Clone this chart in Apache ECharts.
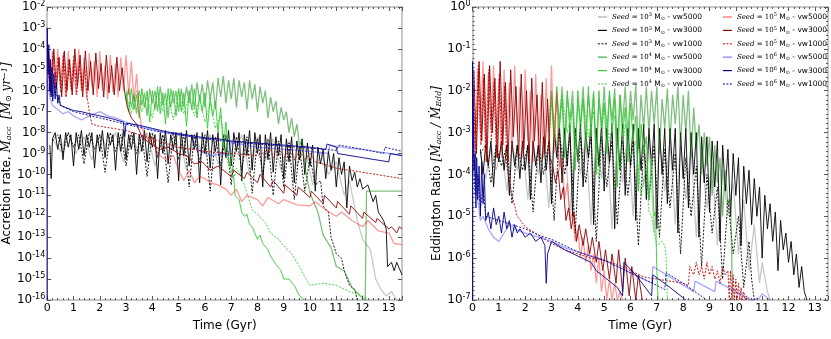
<!DOCTYPE html>
<html>
<head>
<meta charset="utf-8">
<title>Accretion rate / Eddington ratio</title>
<script src="https://cdn.jsdelivr.net/npm/echarts@6.0.0/dist/echarts.min.js"></script>
</head>
<body style="margin:0;background:#fff">
<div id="main" style="width:831px;height:339px;"></div>
<script>
// seeds (log10 Msun) and wind speeds, same order as the legend
var seeds = ['3', '4', '5', '6'];
var winds = ['vw5000', 'vw3000', 'vw1000'];
// y ranges, as powers of ten
var accRange = [-16, -2];
var eddRange = [-7, 0];

// ---- left panel: log10 accretion rate [Msun/yr] vs time [Gyr] ----
var acc3_5000 = [[0.2,-8.3],[0.5,-8.9],[0.8,-8.0],[1.1,-9.0],[1.4,-8.2],[1.7,-9.3],[2.0,-8.1],[2.3,-8.8],[2.6,-8.0],[2.9,-9.4],[3.2,-8.1],[3.5,-9.0],[3.8,-8.0],[4.1,-9.6],[4.4,-8.1],[4.7,-8.9],[5.0,-8.0],[5.3,-9.8],[5.6,-8.1],[5.9,-9.0],[6.2,-8.1],[6.5,-9.5],[6.8,-8.2],[7.1,-9.2],[7.4,-8.1],[7.7,-10.0],[8.0,-8.2],[8.3,-9.3],[8.6,-8.3],[8.9,-9.8],[9.2,-8.4],[9.5,-9.6],[9.8,-8.6],[10.1,-10.5],[10.4,-8.9],[10.7,-10.0],[11.0,-9.4],[11.3,-11.0],[11.5,-10.3],[11.8,-12.2],[12.0,-13.1],[12.3,-13.6],[12.5,-15.0],[12.7,-15.5],[12.9,-15.8],[13.1,-15.6],[13.3,-16.0]];
var acc3_3000 = [[0.1,-8.6],[0.15,-10.2],[0.2,-8.3],[0.3,-8.0],[0.4,-8.8],[0.5,-8.1],[0.6,-9.3],[0.7,-8.0],[0.8,-8.7],[0.9,-8.1],[1.0,-9.6],[1.1,-8.0],[1.2,-8.8],[1.3,-7.9],[1.4,-9.1],[1.5,-8.1],[1.6,-8.7],[1.7,-8.0],[1.8,-9.7],[1.9,-8.1],[2.0,-8.9],[2.1,-7.9],[2.2,-9.2],[2.3,-8.0],[2.4,-8.6],[2.5,-8.1],[2.6,-9.8],[2.7,-8.0],[2.8,-8.9],[2.9,-7.9],[3.0,-9.3],[3.1,-8.1],[3.2,-8.8],[3.3,-8.0],[3.4,-10.0],[3.5,-8.1],[3.6,-8.9],[3.7,-7.9],[3.8,-9.4],[3.9,-8.0],[4.0,-8.7],[4.1,-8.1],[4.2,-10.2],[4.3,-8.0],[4.4,-9.0],[4.5,-7.9],[4.6,-9.5],[4.7,-8.1],[4.8,-8.8],[4.9,-8.0],[5.0,-10.3],[5.1,-8.0],[5.2,-9.1],[5.3,-7.9],[5.4,-9.6],[5.5,-8.1],[5.6,-8.8],[5.7,-8.0],[5.8,-10.4],[5.9,-8.0],[6.0,-9.0],[6.1,-7.9],[6.2,-9.7],[6.3,-8.1],[6.4,-8.9],[6.5,-8.0],[6.6,-10.5],[6.7,-8.1],[6.8,-9.2],[6.9,-7.9],[7.0,-9.6],[7.1,-8.0],[7.2,-8.9],[7.3,-8.0],[7.4,-10.3],[7.5,-8.1],[7.6,-9.1],[7.7,-7.9],[7.8,-9.8],[7.9,-8.0],[8.0,-9.0],[8.1,-8.1],[8.2,-10.6],[8.3,-8.1],[8.4,-9.3],[8.5,-8.0],[8.6,-9.9],[8.7,-8.2],[8.8,-9.1],[8.9,-8.1],[9.0,-10.2],[9.1,-8.3],[9.2,-9.4],[9.3,-8.2],[9.4,-10.4],[9.5,-8.4],[9.6,-9.3],[9.7,-8.3],[9.8,-10.0],[9.9,-8.5],[10.0,-9.6],[10.1,-8.6],[10.2,-10.8],[10.3,-8.7],[10.4,-9.5],[10.5,-8.8],[10.6,-10.2],[10.7,-8.9],[10.8,-9.8],[10.9,-9.0],[11.0,-10.6],[11.1,-9.2],[11.2,-10.0],[11.3,-9.4],[11.4,-11.6],[11.5,-9.6],[11.6,-10.3],[11.7,-9.9],[11.8,-10.6],[11.9,-10.2],[12.0,-10.7],[12.2,-10.5],[12.4,-11.3],[12.5,-11.0],[12.6,-11.8],[12.8,-12.2],[12.9,-12.6],[12.95,-14.4],[13.1,-14.2],[13.2,-14.6],[13.3,-14.2],[13.5,-14.8]];
var acc3_1000 = [[0.2,-8.4],[0.4,-8.1],[0.6,-9.0],[0.8,-8.0],[1.0,-8.7],[1.2,-8.1],[1.4,-9.5],[1.6,-8.0],[1.8,-8.8],[2.0,-8.1],[2.2,-9.9],[2.4,-8.0],[2.6,-8.9],[2.8,-8.1],[3.0,-9.6],[3.2,-8.0],[3.4,-9.0],[3.6,-8.1],[3.8,-10.1],[4.0,-8.0],[4.2,-9.2],[4.4,-8.1],[4.6,-10.4],[4.8,-8.0],[5.0,-9.3],[5.2,-8.1],[5.4,-10.6],[5.6,-8.1],[5.8,-9.4],[6.0,-8.1],[6.2,-10.8],[6.4,-8.2],[6.6,-9.6],[6.8,-8.1],[7.0,-10.5],[7.2,-8.2],[7.4,-9.8],[7.6,-8.2],[7.8,-10.9],[8.0,-8.3],[8.2,-10.0],[8.4,-8.3],[8.6,-11.0],[8.8,-8.4],[9.0,-10.6],[9.2,-8.5],[9.4,-11.2],[9.6,-8.7],[9.8,-10.8],[10.0,-9.2],[10.2,-10.5],[10.4,-10.3],[10.5,-11.5],[10.7,-11.8],[10.8,-13.0],[11.0,-13.8],[11.2,-14.0],[11.3,-14.6],[11.5,-15.3],[11.7,-15.5],[11.8,-16.0]];
var acc4_5000 = [[3.0,-6.5],[3.1,-5.9],[3.2,-6.8],[3.3,-6.2],[3.4,-7.1],[3.5,-6.0],[3.6,-6.7],[3.7,-6.1],[3.8,-7.2],[3.9,-5.9],[4.0,-6.6],[4.1,-6.0],[4.2,-7.0],[4.3,-5.8],[4.4,-6.7],[4.5,-6.1],[4.6,-7.3],[4.7,-5.9],[4.8,-6.6],[4.9,-6.0],[5.0,-7.0],[5.1,-5.9],[5.2,-6.8],[5.3,-5.8],[5.4,-6.6],[5.5,-5.7],[5.6,-6.9],[5.7,-5.6],[5.8,-6.5],[5.9,-5.7],[6.0,-6.8],[6.1,-5.5],[6.2,-6.4],[6.3,-5.6],[6.4,-6.9],[6.5,-5.4],[6.6,-6.3],[6.7,-5.3],[6.8,-6.6],[6.9,-5.5],[7.0,-6.4],[7.1,-5.4],[7.2,-6.8],[7.3,-5.5],[7.4,-6.3],[7.5,-5.6],[7.6,-6.9],[7.7,-5.5],[7.8,-6.4],[7.9,-5.7],[8.0,-7.0],[8.1,-5.8],[8.2,-6.6],[8.3,-6.0],[8.4,-7.3],[8.5,-6.3],[8.6,-7.0],[8.7,-6.5],[8.8,-7.6],[8.9,-6.8],[9.0,-7.4],[9.1,-7.0],[9.2,-8.0],[9.3,-7.3],[9.4,-8.2],[9.5,-7.6],[9.6,-8.6],[9.7,-8.3],[9.8,-9.6],[10.0,-10.9],[10.3,-11.8],[10.5,-12.9],[10.8,-13.5],[11.0,-14.4],[11.3,-14.6],[11.6,-15.4],[11.9,-15.8],[12.1,-16.0],[12.15,-10.8],[13.5,-10.8]];
var acc4_3000 = [[3.0,-6.0],[3.1,-7.0],[3.2,-5.9],[3.3,-6.9],[3.4,-6.2],[3.5,-7.3],[3.6,-5.9],[3.7,-6.8],[3.8,-6.0],[3.9,-7.5],[4.0,-6.0],[4.1,-6.9],[4.2,-5.8],[4.3,-7.1],[4.4,-6.1],[4.5,-7.6],[4.6,-5.9],[4.7,-6.8],[4.8,-6.0],[4.9,-7.2],[5.0,-5.9],[5.1,-7.0],[5.2,-6.1],[5.3,-7.7],[5.4,-6.0],[5.5,-6.9],[5.6,-5.9],[5.7,-7.3],[5.8,-6.2],[5.9,-7.0],[6.0,-6.1],[6.1,-7.8],[6.2,-6.3],[6.3,-7.2],[6.4,-6.5],[6.5,-8.0],[6.6,-6.8],[6.7,-8.7],[6.8,-7.5],[6.9,-9.3],[7.0,-9.8],[7.1,-10.2],[7.15,-11.0],[7.3,-11.2],[7.4,-11.8],[7.5,-12.0],[7.6,-11.9],[7.7,-12.4],[7.8,-12.5],[8.0,-13.1],[8.1,-12.9],[8.2,-13.3],[8.4,-13.6],[8.5,-13.9],[8.7,-14.3],[8.9,-14.6],[9.0,-15.0],[9.2,-15.0],[9.4,-15.3],[9.6,-15.8],[9.8,-16.0]];
var acc4_1000 = [[3.0,-6.2],[3.2,-7.1],[3.4,-6.0],[3.6,-7.0],[3.8,-6.3],[4.0,-7.3],[4.2,-6.1],[4.4,-7.0],[4.6,-6.2],[4.8,-7.4],[5.0,-6.0],[5.2,-7.1],[5.4,-6.3],[5.6,-7.2],[5.8,-6.4],[6.0,-7.5],[6.2,-6.6],[6.4,-7.8],[6.6,-7.2],[6.8,-8.9],[6.9,-9.6],[7.0,-9.0],[7.1,-10.2],[7.2,-9.7],[7.3,-9.9],[7.5,-10.5],[7.7,-11.3],[7.8,-11.7],[8.0,-11.9],[8.3,-12.3],[8.5,-12.8],[8.8,-13.1],[9.0,-13.4],[9.3,-13.8],[9.6,-14.4],[9.8,-14.9],[10.0,-15.3],[10.5,-15.2],[11.0,-15.3],[11.5,-15.6],[12.0,-15.8],[12.3,-16.0]];
var acc5_5000 = [[0.0,-4.5],[0.1,-6.0],[0.2,-4.2],[0.3,-6.2],[0.4,-4.0],[0.5,-5.8],[0.6,-4.3],[0.7,-6.3],[0.8,-4.1],[0.9,-5.9],[1.0,-4.5],[1.1,-6.2],[1.2,-4.0],[1.3,-6.0],[1.4,-4.4],[1.5,-6.4],[1.6,-4.2],[1.7,-5.8],[1.8,-4.6],[1.9,-6.3],[2.0,-4.1],[2.1,-6.0],[2.2,-4.8],[2.3,-6.4],[2.4,-4.3],[2.5,-6.1],[2.6,-4.7],[2.7,-6.3],[2.8,-4.4],[2.9,-6.0],[3.0,-4.3],[3.1,-6.2],[3.2,-4.6],[3.3,-6.5],[3.4,-5.2],[3.5,-7.0],[3.6,-7.8],[3.7,-8.0],[3.9,-8.5],[4.0,-8.2],[4.2,-9.0],[4.5,-9.3],[4.8,-9.1],[5.0,-9.8],[5.2,-10.3],[5.4,-9.8],[5.6,-10.4],[5.8,-10.1],[6.0,-10.2],[6.2,-10.4],[6.5,-10.5],[6.8,-10.7],[7.0,-11.0],[7.2,-10.7],[7.4,-11.3],[7.6,-11.0],[8.0,-11.2],[8.2,-11.5],[8.4,-11.1],[8.8,-11.4],[9.0,-11.2],[9.5,-11.45],[10.0,-11.5],[10.2,-11.3],[10.6,-11.7],[11.0,-12.0],[11.2,-11.8],[11.6,-12.2],[12.0,-12.5],[12.2,-12.2],[12.6,-12.7],[13.0,-12.8],[13.2,-13.3],[13.5,-13.35]];
var acc5_3000 = [[0.05,-4.1],[0.15,-6.1],[0.25,-4.0],[0.35,-5.9],[0.45,-4.4],[0.55,-6.3],[0.65,-4.1],[0.75,-6.0],[0.85,-4.5],[0.95,-6.2],[1.05,-4.0],[1.15,-5.8],[1.25,-4.3],[1.35,-6.3],[1.45,-4.1],[1.55,-6.0],[1.65,-4.6],[1.75,-6.2],[1.85,-4.2],[1.95,-5.9],[2.05,-4.7],[2.15,-6.3],[2.25,-4.3],[2.35,-6.1],[2.45,-4.8],[2.55,-6.2],[2.65,-4.4],[2.75,-6.0],[2.85,-4.9],[2.95,-6.1],[3.05,-6.8],[3.2,-7.3],[3.4,-7.6],[3.6,-8.2],[3.8,-8.4],[4.0,-8.6],[4.3,-8.8],[4.6,-8.7],[5.0,-9.0],[5.3,-9.1],[5.6,-9.5],[5.9,-9.4],[6.2,-9.8],[6.5,-9.6],[6.8,-9.9],[7.0,-10.1],[7.1,-9.8],[7.5,-10.2],[7.6,-9.9],[8.0,-10.4],[8.1,-10.0],[8.5,-10.6],[8.6,-10.3],[9.0,-10.9],[9.05,-10.5],[9.5,-11.0],[9.55,-10.6],[10.0,-11.1],[10.05,-10.8],[10.5,-11.4],[10.55,-11.0],[11.0,-11.6],[11.05,-11.3],[11.5,-11.9],[11.55,-11.5],[12.0,-12.1],[12.05,-11.8],[12.5,-12.3],[12.55,-12.1],[13.0,-12.6],[13.1,-12.5],[13.3,-12.8],[13.4,-12.5],[13.5,-12.6]];
var acc5_1000 = [[0.02,-4.3],[0.12,-6.2],[0.22,-4.1],[0.32,-5.9],[0.42,-4.4],[0.52,-6.1],[0.62,-4.2],[0.72,-6.3],[0.82,-4.5],[0.92,-6.0],[1.02,-4.3],[1.12,-6.2],[1.22,-4.6],[1.32,-6.0],[1.42,-4.8],[1.52,-6.3],[1.6,-7.0],[1.7,-7.6],[2.0,-7.7],[2.5,-7.8],[3.0,-7.9],[3.5,-8.1],[4.0,-8.3],[5.0,-8.7],[6.0,-8.9],[7.0,-9.0],[8.0,-9.1],[8.5,-8.8],[8.6,-9.2],[8.8,-8.7],[9.0,-9.2],[9.2,-8.8],[9.4,-9.3],[9.6,-8.9],[9.8,-9.3],[10.0,-9.0],[10.2,-9.4],[10.5,-9.5],[11.0,-9.7],[11.5,-9.8],[12.0,-9.9],[13.0,-10.1],[13.5,-10.2]];
var acc6_5000 = [[0.0,-5.5],[0.1,-6.3],[0.2,-6.7],[0.4,-6.9],[0.6,-7.1],[0.8,-7.0],[1.0,-7.2],[1.3,-7.4],[1.6,-7.2],[2.0,-7.0],[2.3,-7.2],[2.6,-7.3],[3.0,-7.5],[3.5,-7.7],[4.0,-7.85],[4.5,-8.0],[5.0,-8.1],[5.5,-8.2],[5.7,-8.8],[6.0,-9.0],[6.3,-9.1],[6.6,-9.0],[6.9,-9.1],[7.0,-8.5],[7.5,-8.6],[8.0,-8.7],[9.0,-8.8],[10.0,-8.9],[10.7,-9.0],[10.75,-8.6],[11.5,-8.75],[12.0,-8.8],[12.5,-8.9],[13.0,-9.0],[13.5,-9.1]];
var acc6_3000 = [[0,-17],[0,-3.0],[0.03,-5.2],[0.06,-3.8],[0.09,-6.0],[0.12,-4.5],[0.15,-6.3],[0.18,-4.9],[0.21,-6.5],[0.25,-5.2],[0.3,-6.4],[0.35,-5.6],[0.4,-6.6],[0.45,-6.2],[0.5,-6.7],[0.7,-6.8],[1.0,-6.95],[1.3,-7.0],[1.6,-7.1],[2.0,-7.2],[2.5,-7.35],[2.9,-7.5],[2.95,-8.2],[3.0,-7.55],[3.5,-7.65],[4.0,-7.8],[4.5,-7.95],[5.0,-8.05],[5.5,-8.15],[6.0,-8.25],[6.5,-8.3],[7.0,-8.4],[7.5,-8.45],[8.0,-8.5],[8.5,-8.55],[9.0,-8.6],[9.5,-8.65],[10.0,-8.7],[10.6,-8.8],[10.65,-8.55],[11.0,-8.7],[11.05,-9.0],[12.0,-9.2],[13.0,-9.4],[13.05,-9.0],[13.5,-9.1]];
var acc6_1000 = [[0.0,-4.0],[0.1,-5.8],[0.2,-6.3],[0.3,-6.0],[0.5,-6.7],[1.0,-7.0],[2.0,-7.3],[3.0,-7.6],[4.0,-7.9],[5.0,-8.1],[6.0,-8.3],[7.0,-8.45],[8.0,-8.55],[9.0,-8.65],[10.0,-8.75],[11.0,-8.85],[11.1,-8.6],[12.0,-8.8],[12.8,-9.0],[12.85,-8.7],[13.5,-8.9]];

// ---- right panel: log10 Eddington ratio vs time [Gyr] ----
var edd3_5000 = [[0.3,-3.5],[0.5,-4.1],[0.7,-3.3],[0.9,-3.9],[1.1,-3.3],[1.3,-4.4],[1.5,-3.3],[1.7,-3.9],[1.9,-3.3],[2.1,-4.6],[2.3,-3.3],[2.5,-4.0],[2.7,-3.3],[2.9,-4.8],[3.1,-3.0],[3.3,-3.8],[3.5,-3.1],[3.7,-5.0],[3.9,-3.0],[4.1,-4.0],[4.3,-3.1],[4.5,-5.2],[4.7,-3.0],[4.9,-4.1],[5.1,-3.1],[5.3,-5.3],[5.5,-3.1],[5.7,-4.2],[5.9,-3.0],[6.1,-5.0],[6.3,-3.1],[6.5,-4.3],[6.7,-3.1],[6.9,-5.4],[7.1,-3.2],[7.3,-4.4],[7.5,-3.2],[7.7,-5.2],[7.9,-3.3],[8.1,-4.6],[8.3,-3.4],[8.5,-5.5],[8.7,-3.5],[8.9,-4.8],[9.1,-3.7],[9.3,-5.7],[9.5,-3.9],[9.7,-5.0],[9.9,-4.2],[10.1,-5.9],[10.3,-4.6],[10.5,-6.3],[10.7,-5.2],[10.9,-6.6],[11.0,-6.1],[11.2,-6.8],[11.3,-7.0]];
var edd3_3000 = [[0.3,-3.4],[0.4,-4.0],[0.5,-3.3],[0.6,-3.8],[0.7,-3.2],[0.8,-4.3],[0.9,-3.3],[1.0,-3.7],[1.1,-3.2],[1.2,-3.9],[1.3,-3.3],[1.4,-4.5],[1.5,-3.2],[1.6,-3.8],[1.7,-3.3],[1.8,-4.1],[1.9,-3.2],[2.0,-3.9],[2.1,-3.3],[2.2,-4.6],[2.3,-3.2],[2.4,-3.8],[2.5,-3.3],[2.6,-4.2],[2.7,-3.1],[2.8,-3.9],[2.9,-3.2],[3.0,-4.7],[3.1,-2.9],[3.2,-3.6],[3.3,-2.8],[3.4,-4.2],[3.5,-2.9],[3.6,-3.8],[3.7,-2.8],[3.8,-5.0],[3.9,-2.9],[4.0,-3.7],[4.1,-2.8],[4.2,-4.3],[4.3,-3.0],[4.4,-3.6],[4.5,-2.8],[4.6,-5.2],[4.7,-2.9],[4.8,-3.8],[4.9,-2.8],[5.0,-4.4],[5.1,-2.9],[5.2,-3.7],[5.3,-2.8],[5.4,-5.3],[5.5,-2.9],[5.6,-3.9],[5.7,-2.8],[5.8,-4.5],[5.9,-2.9],[6.0,-3.8],[6.1,-2.8],[6.2,-5.1],[6.3,-2.9],[6.4,-3.9],[6.5,-2.8],[6.6,-4.6],[6.7,-2.9],[6.8,-3.8],[6.9,-2.8],[7.0,-5.3],[7.1,-2.9],[7.2,-4.0],[7.3,-2.9],[7.4,-4.7],[7.5,-2.9],[7.6,-3.9],[7.7,-2.9],[7.8,-5.4],[7.9,-3.0],[8.0,-4.1],[8.1,-2.9],[8.2,-4.8],[8.3,-3.0],[8.4,-4.0],[8.5,-3.0],[8.6,-5.5],[8.7,-3.1],[8.8,-4.2],[8.9,-3.1],[9.0,-4.9],[9.1,-3.2],[9.2,-4.3],[9.3,-3.2],[9.4,-5.6],[9.5,-3.3],[9.6,-4.4],[9.7,-3.4],[9.8,-5.0],[9.9,-3.5],[10.0,-4.5],[10.1,-3.6],[10.2,-5.7],[10.3,-3.8],[10.4,-4.7],[10.5,-3.9],[10.6,-5.2],[10.7,-4.1],[10.8,-5.0],[10.9,-4.3],[11.0,-6.0],[11.1,-4.5],[11.2,-5.3],[11.3,-4.7],[11.4,-5.6],[11.5,-4.9],[11.6,-6.3],[11.7,-5.1],[11.8,-5.8],[11.9,-5.4],[12.0,-6.1],[12.1,-5.6],[12.2,-6.4],[12.3,-5.9],[12.4,-6.7],[12.5,-6.2],[12.6,-6.8],[12.7,-7.0]];
var edd3_1000 = [[0.3,-3.5],[0.5,-3.3],[0.7,-4.2],[0.9,-3.3],[1.1,-3.8],[1.3,-3.3],[1.5,-4.7],[1.7,-3.3],[1.9,-3.9],[2.1,-3.3],[2.3,-4.9],[2.5,-3.3],[2.7,-4.0],[2.9,-3.2],[3.1,-5.1],[3.3,-3.0],[3.5,-4.0],[3.7,-3.1],[3.9,-5.4],[4.1,-3.1],[4.3,-4.2],[4.5,-3.1],[4.7,-5.6],[4.9,-3.1],[5.1,-4.3],[5.3,-3.2],[5.5,-5.2],[5.7,-3.2],[5.9,-4.5],[6.1,-3.2],[6.3,-5.7],[6.5,-3.3],[6.7,-4.6],[6.9,-3.3],[7.1,-5.5],[7.3,-3.4],[7.5,-4.8],[7.7,-3.5],[7.9,-5.9],[8.1,-3.6],[8.3,-5.0],[8.5,-3.8],[8.7,-6.2],[8.9,-4.0],[9.1,-5.4],[9.3,-4.3],[9.5,-6.5],[9.7,-4.6],[9.9,-5.9],[10.1,-5.0],[10.3,-6.7],[10.5,-5.6],[10.6,-6.5],[10.7,-7.0]];
var edd4_5000 = [[2.9,-3.0],[3.0,-2.0],[3.1,-3.0],[3.2,-2.1],[3.3,-2.8],[3.4,-1.9],[3.5,-3.2],[3.6,-2.1],[3.7,-2.7],[3.8,-2.0],[3.9,-3.4],[4.0,-2.2],[4.1,-2.9],[4.2,-1.9],[4.3,-3.1],[4.4,-2.1],[4.5,-2.8],[4.6,-2.0],[4.7,-3.5],[4.8,-2.2],[4.9,-2.9],[5.0,-1.9],[5.1,-3.0],[5.2,-2.1],[5.3,-2.7],[5.4,-1.95],[5.5,-3.3],[5.6,-2.1],[5.7,-2.8],[5.8,-1.9],[5.9,-3.1],[6.0,-2.0],[6.1,-2.7],[6.2,-1.85],[6.3,-3.4],[6.4,-2.1],[6.5,-2.9],[6.6,-1.9],[6.7,-3.0],[6.8,-2.0],[6.9,-2.8],[7.0,-1.9],[7.1,-3.5],[7.2,-2.2],[7.3,-2.9],[7.4,-1.95],[7.5,-3.2],[7.6,-2.1],[7.7,-2.8],[7.8,-1.9],[7.9,-3.3],[8.0,-2.1],[8.1,-3.0],[8.2,-2.0],[8.3,-3.6],[8.4,-2.4],[8.5,-3.4],[8.6,-2.8],[8.7,-4.0],[8.8,-3.0],[8.9,-3.8],[9.0,-3.1],[9.1,-4.5],[9.2,-3.3],[9.3,-4.2],[9.4,-3.6],[9.5,-5.0],[9.6,-3.9],[9.7,-4.7],[9.8,-4.6],[9.85,-6.2],[9.9,-7.0]];
var edd4_3000 = [[2.9,-3.2],[3.0,-2.1],[3.1,-3.2],[3.2,-1.9],[3.3,-2.9],[3.4,-2.2],[3.5,-3.6],[3.6,-2.0],[3.7,-3.0],[3.8,-2.3],[3.9,-3.9],[4.0,-2.0],[4.1,-2.8],[4.2,-2.2],[4.3,-3.4],[4.4,-1.9],[4.5,-3.1],[4.6,-2.1],[4.7,-4.0],[4.8,-2.0],[4.9,-2.9],[5.0,-2.3],[5.1,-3.5],[5.2,-2.0],[5.3,-3.0],[5.4,-2.2],[5.5,-4.3],[5.6,-2.1],[5.7,-3.1],[5.8,-2.4],[5.9,-3.7],[6.0,-2.3],[6.1,-3.2],[6.2,-2.6],[6.3,-4.4],[6.4,-2.8],[6.5,-3.5],[6.6,-3.1],[6.7,-4.6],[6.8,-3.6],[6.9,-5.0],[6.95,-4.9],[7.0,-6.3],[7.05,-7.0]];
var edd4_1000 = [[2.9,-3.4],[3.0,-2.3],[3.2,-3.3],[3.4,-2.1],[3.6,-3.0],[3.8,-2.4],[4.0,-3.7],[4.2,-2.2],[4.4,-3.1],[4.6,-2.5],[4.8,-4.1],[5.0,-2.3],[5.2,-3.2],[5.4,-2.6],[5.6,-3.9],[5.8,-2.8],[6.0,-3.6],[6.2,-3.2],[6.4,-4.5],[6.6,-3.8],[6.7,-4.9],[6.8,-5.0],[6.9,-5.4],[7.0,-5.7],[7.2,-5.6],[7.3,-5.7],[7.35,-5.9],[7.4,-7.0]];
var edd5_5000 = [[0.0,-1.8],[0.1,-3.4],[0.2,-1.5],[0.3,-3.0],[0.4,-1.3],[0.5,-3.5],[0.6,-1.6],[0.7,-2.9],[0.8,-1.4],[0.9,-3.3],[1.0,-1.7],[1.1,-3.6],[1.2,-1.5],[1.3,-3.1],[1.4,-1.8],[1.5,-3.5],[1.6,-1.4],[1.7,-3.0],[1.8,-1.9],[1.9,-3.6],[2.0,-1.5],[2.1,-3.2],[2.2,-2.0],[2.3,-3.7],[2.4,-1.6],[2.5,-3.3],[2.6,-2.1],[2.7,-3.6],[2.8,-1.7],[2.9,-3.4],[3.0,-1.4],[3.1,-3.5],[3.2,-2.0],[3.3,-3.9],[3.4,-3.6],[3.5,-4.6],[3.6,-4.2],[3.7,-5.1],[3.8,-4.9],[3.9,-5.6],[4.0,-5.3],[4.1,-6.0],[4.2,-5.5],[4.3,-6.1],[4.4,-5.7],[4.5,-6.3],[4.6,-5.9],[4.7,-6.6],[4.8,-6.0],[4.9,-6.8],[5.0,-6.3],[5.1,-7.0],[5.2,-6.5],[5.3,-7.0],[5.4,-6.6],[5.5,-7.0],[5.6,-6.8],[5.7,-7.0]];
var edd5_3000 = [[0.05,-1.5],[0.15,-3.5],[0.25,-1.3],[0.35,-3.2],[0.45,-1.6],[0.55,-3.7],[0.65,-1.4],[0.75,-3.0],[0.85,-1.7],[0.95,-3.6],[1.05,-1.3],[1.15,-3.3],[1.25,-1.8],[1.35,-3.7],[1.45,-1.5],[1.55,-3.1],[1.65,-1.9],[1.75,-3.6],[1.85,-1.6],[1.95,-3.4],[2.05,-2.0],[2.15,-3.7],[2.25,-1.7],[2.35,-3.2],[2.45,-2.1],[2.55,-3.7],[2.65,-1.8],[2.75,-3.5],[2.85,-2.2],[2.95,-3.6],[3.05,-3.8],[3.15,-4.2],[3.25,-3.9],[3.35,-4.6],[3.45,-4.3],[3.55,-5.1],[3.65,-4.8],[3.75,-5.3],[3.85,-4.9],[3.95,-5.6],[4.05,-5.2],[4.2,-5.7],[4.3,-5.3],[4.45,-5.9],[4.55,-5.5],[4.7,-6.1],[4.8,-5.6],[4.95,-6.3],[5.05,-5.8],[5.2,-6.5],[5.3,-5.9],[5.45,-6.6],[5.55,-5.8],[5.7,-6.8],[5.8,-6.0],[5.95,-6.9],[6.05,-6.2],[6.2,-7.0],[6.3,-6.4],[6.45,-7.0]];
var edd5_1000 = [[0.02,-1.6],[0.12,-3.6],[0.22,-1.4],[0.32,-3.3],[0.42,-1.7],[0.52,-3.7],[0.62,-1.5],[0.72,-3.2],[0.82,-1.8],[0.92,-3.6],[1.02,-1.6],[1.12,-3.4],[1.22,-1.9],[1.3,-3.8],[1.5,-4.5],[1.7,-5.0],[2.0,-5.25],[2.5,-5.45],[3.0,-5.65],[3.5,-5.8],[4.0,-5.9],[4.5,-6.0],[5.0,-6.05],[5.5,-6.15],[6.0,-6.3],[6.5,-6.45],[7.0,-6.5],[7.5,-6.55],[8.0,-6.6],[8.2,-6.65],[8.25,-6.2],[8.4,-6.4],[8.5,-6.1],[8.6,-6.4],[8.7,-6.2],[8.8,-6.5],[8.9,-6.1],[9.0,-6.4],[9.1,-6.2],[9.2,-6.5],[9.3,-6.3],[9.4,-6.6],[9.5,-6.2],[9.6,-6.4],[9.7,-6.3],[9.75,-7.0],[9.8,-6.3],[9.85,-7.0],[9.9,-6.4],[9.95,-7.0],[10.0,-6.5],[10.05,-7.0],[10.1,-6.6],[10.15,-7.0],[10.2,-6.7],[10.25,-7.0],[10.3,-6.8],[10.35,-7.0],[10.4,-6.9],[10.5,-7.0]];
var edd6_5000 = [[0.0,-2.0],[0.05,-3.5],[0.1,-4.2],[0.2,-4.6],[0.3,-5.1],[0.4,-5.0],[0.6,-5.3],[0.8,-5.5],[1.0,-5.6],[1.2,-5.4],[1.4,-5.2],[1.6,-5.3],[2.0,-5.4],[2.5,-5.5],[3.0,-5.6],[3.5,-5.75],[4.0,-5.85],[4.5,-5.95],[5.0,-6.05],[5.5,-6.2],[6.0,-6.35],[6.5,-6.5],[6.8,-6.6],[6.85,-6.2],[7.5,-6.45],[8.4,-6.8],[8.45,-6.55],[9.2,-6.8],[9.25,-6.55],[10.0,-6.8],[10.6,-7.0],[10.9,-6.95],[11.0,-6.85],[11.3,-7.0]];
var edd6_3000 = [[0,-8],[0,-1.3],[0.03,-2.5],[0.06,-3.9],[0.1,-3.5],[0.13,-4.8],[0.16,-3.6],[0.2,-4.6],[0.25,-3.8],[0.3,-5.0],[0.35,-3.7],[0.4,-4.7],[0.45,-4.0],[0.5,-5.1],[0.6,-4.9],[0.7,-5.3],[0.8,-4.8],[0.9,-5.2],[1.0,-5.0],[1.1,-5.4],[1.2,-4.9],[1.3,-5.3],[1.4,-5.1],[1.5,-5.5],[1.6,-5.2],[1.7,-5.4],[1.8,-5.3],[2.0,-5.5],[2.2,-5.4],[2.4,-5.6],[2.6,-5.5],[2.75,-5.7],[2.8,-6.6],[2.85,-5.9],[3.0,-5.6],[3.5,-5.8],[4.0,-5.95],[4.5,-6.1],[4.7,-6.3],[5.0,-6.45],[5.5,-6.7],[5.7,-6.9],[5.75,-6.1],[6.2,-6.4],[6.8,-6.9],[6.85,-6.4],[7.5,-6.7],[8.1,-7.0]];
var edd6_1000 = [[0.0,-1.5],[0.05,-3.8],[0.1,-4.5],[0.2,-4.0],[0.3,-4.8],[0.4,-4.3],[0.5,-5.0],[1.0,-5.1],[1.5,-5.2],[2.0,-5.3],[2.5,-5.45],[3.0,-5.55],[3.5,-5.7],[4.0,-5.85],[4.5,-5.95],[5.0,-6.05],[5.5,-6.2],[6.0,-6.35],[6.5,-6.5],[7.0,-6.65],[7.3,-6.75],[7.35,-6.35],[8.0,-6.6],[8.9,-7.0]];

var accSets = [acc3_5000, acc3_3000, acc3_1000, acc4_5000, acc4_3000, acc4_1000,
               acc5_5000, acc5_3000, acc5_1000, acc6_5000, acc6_3000, acc6_1000];
var eddSets = [edd3_5000, edd3_3000, edd3_1000, edd4_5000, edd4_3000, edd4_1000,
               edd5_5000, edd5_3000, edd5_1000, edd6_5000, edd6_3000, edd6_1000];

// line looks: one row per seed, one entry per wind
var seedColors = {
    '3': ['rgba(0,0,0,0.22)', '#000000', '#000000'],
    '4': ['rgba(0,128,0,0.5)', '#33cc33', '#33cc33'],
    '5': ['rgba(255,0,0,0.4)', '#8b0000', '#c00000'],
    '6': ['rgba(0,0,255,0.35)', '#00008b', '#00008b']
};
var windWidth = [1.3, 0.9, 0.9];
var legendWidth = [1.8, 1.2, 1];
var windDash = ['solid', 'solid', [2, 1.5]];

function seriesName(s, w) {
    return 'Seed = 10^' + s + ' M⊙ - ' + w;
}

function makeSeries(sets, xi, yi) {
    var out = [];
    seeds.forEach(function (s, si) {
        winds.forEach(function (w, wi) {
            var c = seedColors[s][wi];
            out.push({
                name: seriesName(s, w),
                type: 'line',
                xAxisIndex: xi,
                yAxisIndex: yi,
                data: sets[si * 3 + wi],
                symbol: 'none',
                showSymbol: false,
                silent: true,
                color: c,
                lineStyle: { color: c, width: windWidth[wi], type: windDash[wi] }
            });
        });
    });
    return out;
}

var frame = { onZero: false, lineStyle: { color: '#b4b4b4', width: 1.5 } };
var tick = { inside: true, length: 4, lineStyle: { color: '#555' } };

function xAxes(grid, namePad) {
    var common = {
        gridIndex: grid, type: 'value', min: 0, max: 13.5, interval: 1,
        axisLine: frame, axisTick: tick,
        minorTick: { show: true, splitNumber: 5, length: 2, lineStyle: { color: '#555' } },
        splitLine: { show: false }
    };
    return [
        Object.assign({}, common, {
            position: 'bottom',
            name: 'Time (Gyr)', nameLocation: 'middle', nameGap: 20,
            nameTextStyle: { fontSize: 12, color: '#000', padding: namePad },
            axisLabel: {
                fontSize: 11, color: '#000', margin: 3,
                formatter: function (v) { return Number.isInteger(v) ? String(v) : ''; }
            }
        }),
        Object.assign({}, common, { position: 'top', axisLabel: { show: false } })
    ];
}

var nameRich = {
    m: { fontFamily: 'DejaVu Serif', fontStyle: 'italic', fontSize: 12 },
    d: { fontFamily: 'DejaVu Serif', fontStyle: 'italic', fontSize: 8, verticalAlign: 'bottom' },
    u: { fontFamily: 'DejaVu Serif', fontStyle: 'italic', fontSize: 8, verticalAlign: 'top' }
};

function yAxes(grid, range, minor, name, gap, namePad) {
    var common = {
        gridIndex: grid, type: 'value', min: range[0], max: range[1], interval: 1,
        axisLine: frame, axisTick: tick,
        minorTick: { show: minor, splitNumber: 9, length: 2, lineStyle: { color: '#555' } },
        splitLine: { show: false }
    };
    return [
        Object.assign({}, common, {
            position: 'left',
            name: name, nameLocation: 'middle', nameGap: gap,
            nameTextStyle: { fontSize: 12, color: '#000', fontFamily: 'DejaVu Sans', padding: namePad, rich: nameRich },
            axisLabel: {
                margin: 2,
                formatter: function (v) { return '{b|10}{s|' + v + '}'; },
                rich: {
                    b: { fontSize: 12, color: '#000', lineHeight: 14 },
                    s: { fontSize: 8, color: '#000', lineHeight: 8, verticalAlign: 'top' }
                }
            }
        }),
        Object.assign({}, common, { position: 'right', axisLabel: { show: false } })
    ];
}

function legendBlock(seedList, left) {
    var items = [];
    seedList.forEach(function (s) {
        winds.forEach(function (w, wi) {
            items.push({ name: seriesName(s, w), lineStyle: { width: legendWidth[wi] } });
        });
    });
    return {
        data: items, orient: 'vertical', left: left, top: 12.5, padding: 0,
        itemWidth: 9, itemHeight: 8, itemGap: 4.4, selectedMode: false,
        itemStyle: { opacity: 0, borderWidth: 0 },
        formatter: function (n) {
            var m = n.match(/\^(\d) M⊙ - (vw\d+)/);
            return '{i|Seed}{r| = 10}{s|' + m[1] + '}{t| M}{u|⊙}{t| - ' + m[2] + '}';
        },
        textStyle: {
            rich: {
                i: { fontFamily: 'DejaVu Serif', fontStyle: 'italic', fontSize: 7, lineHeight: 9, color: '#000' },
                r: { fontFamily: 'DejaVu Serif', fontSize: 7, lineHeight: 9, color: '#000' },
                s: { fontFamily: 'DejaVu Serif', fontSize: 5, verticalAlign: 'top', lineHeight: 6, color: '#000' },
                t: { fontFamily: 'DejaVu Sans', fontSize: 7.5, lineHeight: 9, color: '#000' },
                u: { fontFamily: 'DejaVu Sans', fontSize: 5, verticalAlign: 'bottom', lineHeight: 6, color: '#000' }
            }
        }
    };
}

var chart = echarts.init(document.getElementById('main'));
chart.setOption({
    animation: false,
    textStyle: { fontFamily: 'DejaVu Sans' },
    grid: [
        { left: 46, top: 7, width: 356, height: 293 },
        { left: 472.5, top: 7, width: 356, height: 293 }
    ],
    legend: [legendBlock(['3', '4'], 597), legendBlock(['5', '6'], 722)],
    xAxis: xAxes(0, [0, 0, 0, 0]).concat(xAxes(1, [0, 20, 0, 0])),
    yAxis: yAxes(0, accRange, false,
            'Accretion rate, {m|Ṁ}{d|acc}  {m|[M}{d|⊙}{m| yr}{u|−1}{m|]}', 26, [0, 0, 0, 0])
        .concat(yAxes(1, eddRange, true,
            'Eddington Ratio {m|[Ṁ}{d|acc}{m| / Ṁ}{d|Edd}{m|]}', 25, [0, 40, 0, 0])),
    series: makeSeries(accSets, 0, 0).concat(makeSeries(eddSets, 2, 2))
});
</script>
</body>
</html>
